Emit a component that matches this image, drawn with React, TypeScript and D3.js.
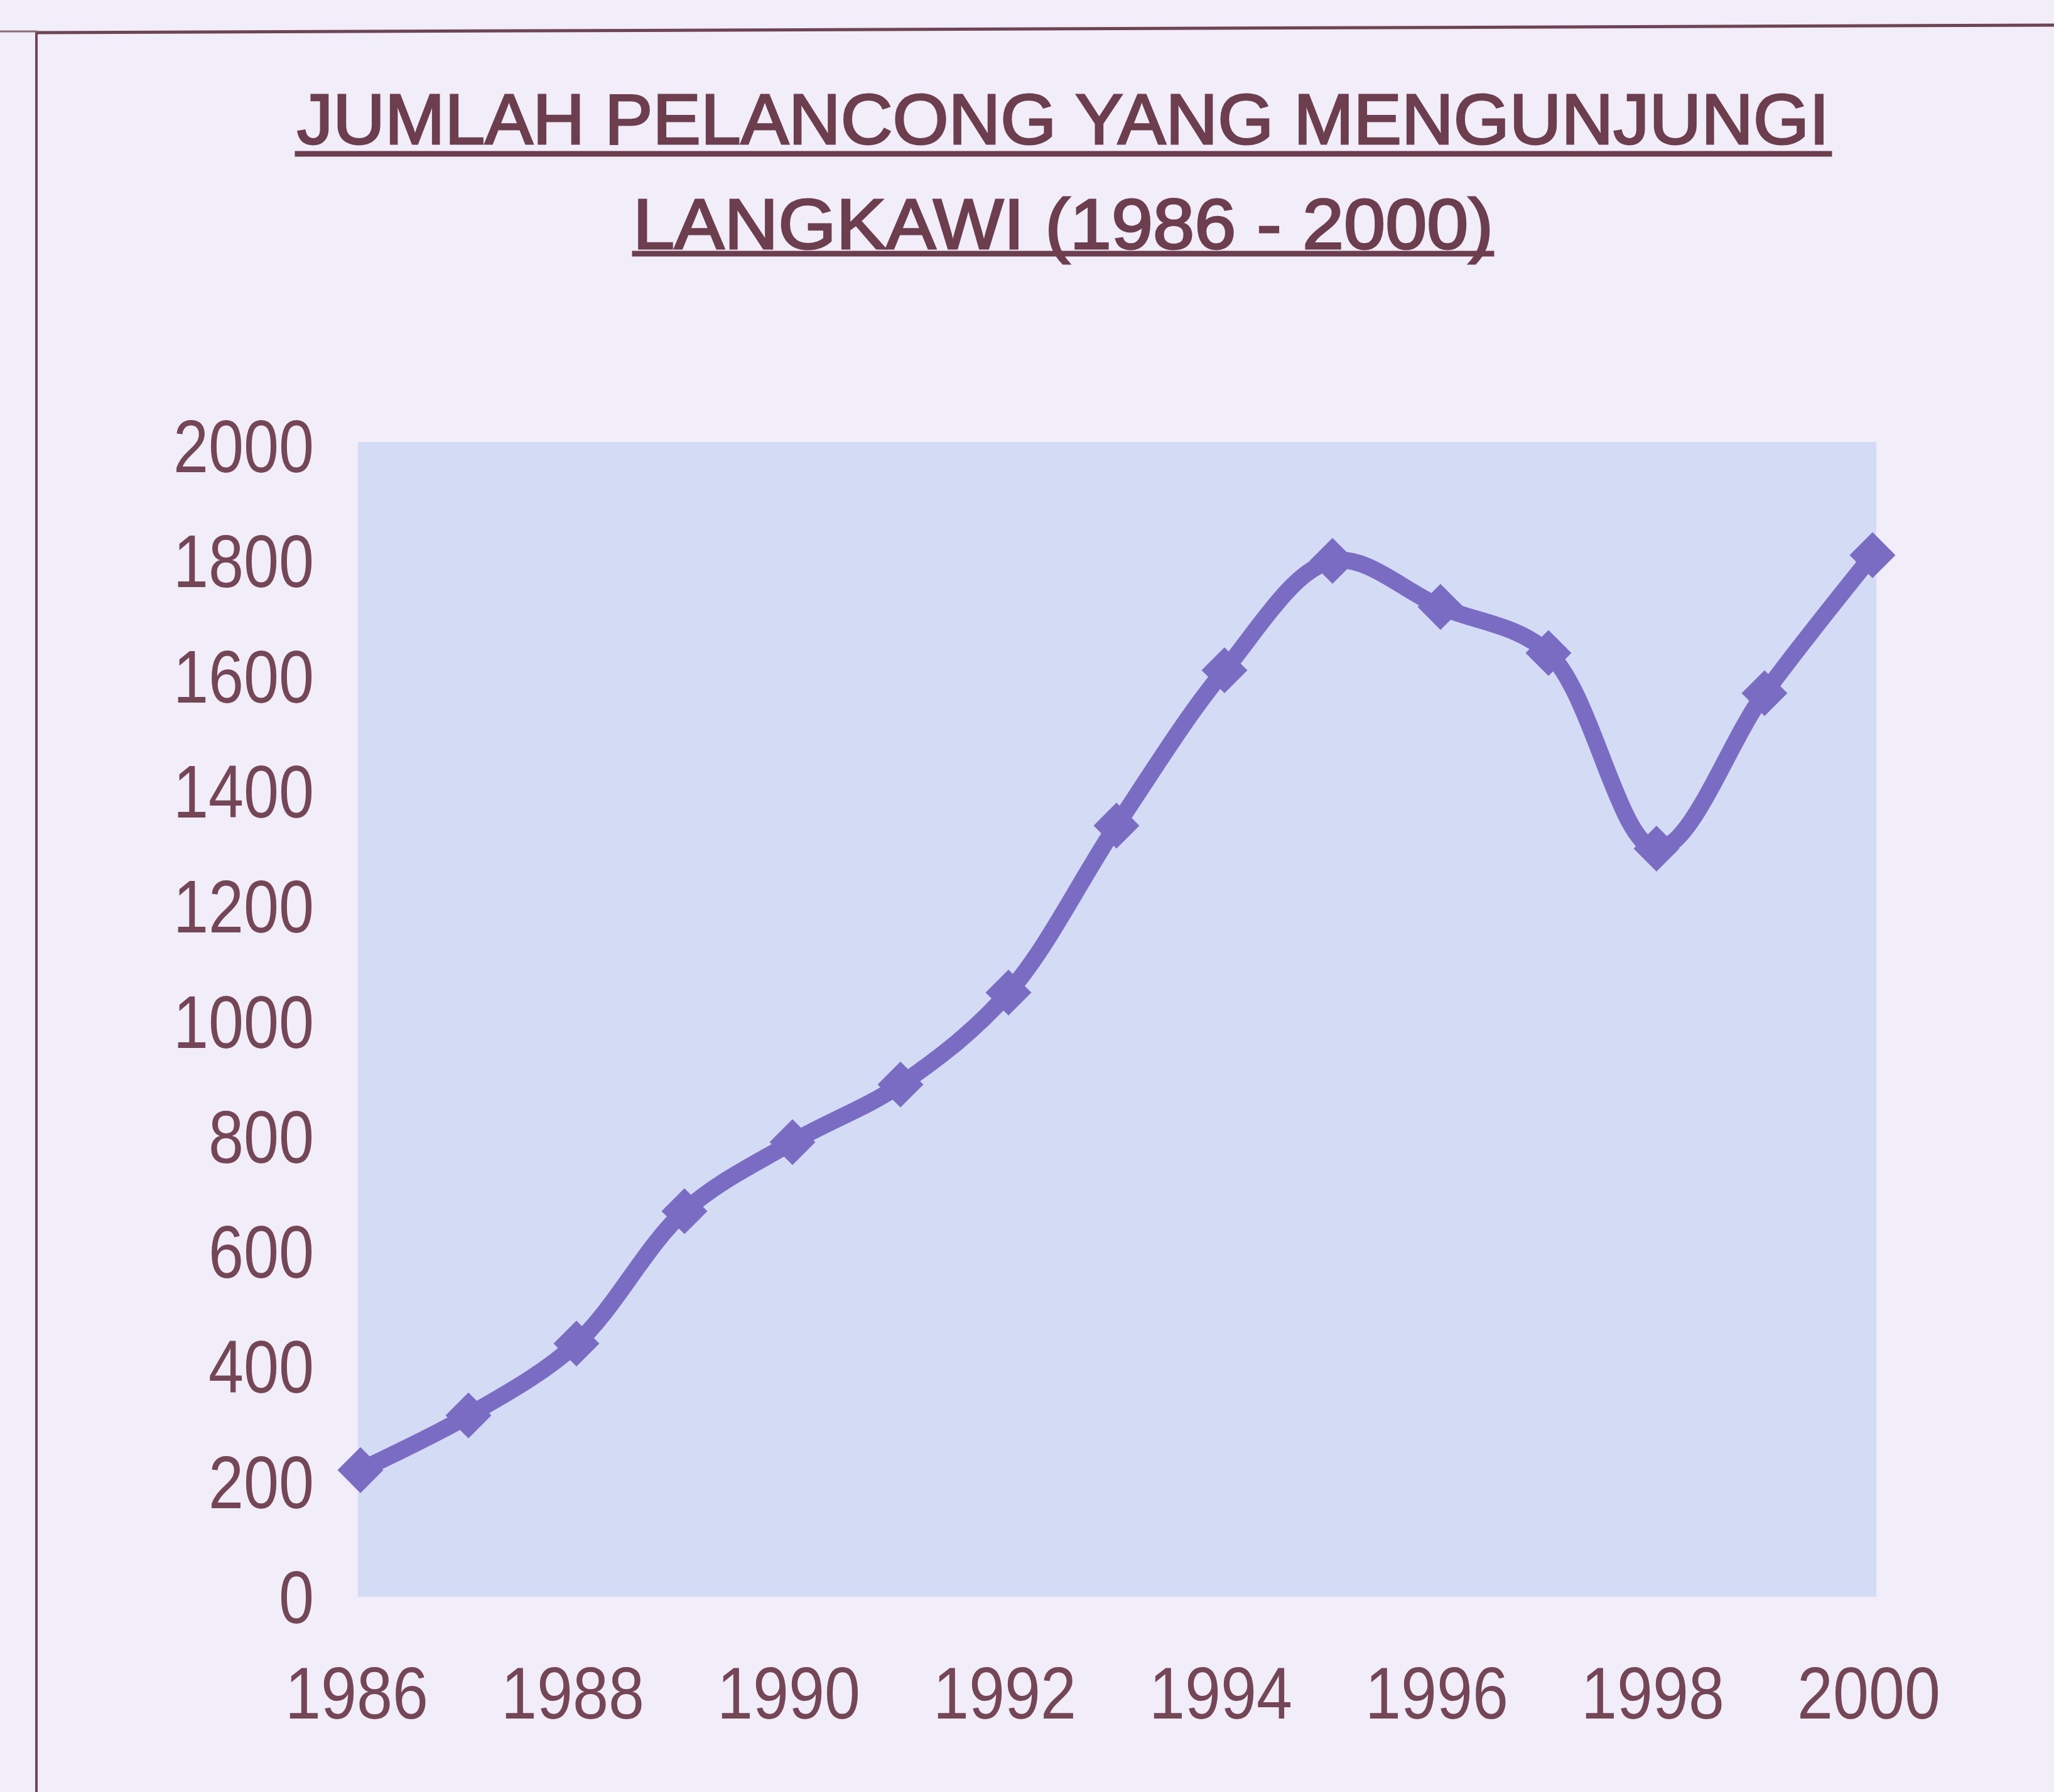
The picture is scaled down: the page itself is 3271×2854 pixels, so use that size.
import React from 'react'
import * as d3 from 'd3'

const years = [1986, 1987, 1988, 1989, 1990, 1991, 1992, 1993, 1994, 1995, 1996, 1997, 1998, 1999, 2000]
const visitors = [220, 315, 440, 670, 790, 890, 1050, 1340, 1610, 1800, 1720, 1640, 1300, 1570, 1810]
const yTicks = [0, 200, 400, 600, 800, 1000, 1200, 1400, 1600, 1800, 2000]
const xTicks = [1986, 1988, 1990, 1992, 1994, 1996, 1998, 2000]
const titleLines = ['JUMLAH PELANCONG YANG MENGUNJUNGI', 'LANGKAWI (1986 - 2000)']

const W = 3271
const H = 2854
const plot = { left: 574, right: 2982, top: 710, bottom: 2543 }
const textColor = '#744656'
const lineColor = '#7b6cc3'
const font = '"Liberation Sans", Arial, sans-serif'

function App() {
    const xScale = d3.scaleLinear()
        .domain([1986, 2000])
        .range([plot.left, plot.right])

    const yScale = d3.scaleLinear()
        .domain([0, 2000])
        .range([plot.bottom, plot.top])

    const line = d3.line<number>()
        .x((d, i) => xScale(years[i]))
        .y((d) => yScale(d))
        .curve(d3.curveCatmullRom.alpha(0.5))

    const diamond = d3.symbol().type(d3.symbolDiamond2).size(3400)

    return (
        <svg width={W} height={H} style={{ position: 'absolute', left: 0, top: 0 }}>
            <rect x={0} y={0} width={W} height={H} fill="#f1edf9" />

            {/* frame */}
            <line x1={56} y1={52} x2={W} y2={40} stroke="#6e4454" strokeWidth={5} />
            <line x1={58} y1={50} x2={58} y2={H} stroke="#6e4454" strokeWidth={4} />
            <line x1={0} y1={50} x2={60} y2={50} stroke="#8a6a78" strokeWidth={3} />

            {/* title */}
            <g fill="#6d3e4e" stroke="#6d3e4e" strokeWidth={3} fontFamily={font}>
                <text x={1693} y={229} fontSize={114} textAnchor="middle"
                    textLength={2440} lengthAdjust="spacingAndGlyphs">{titleLines[0]}</text>
                <rect x={471} y={242} width={2445} height={6} />
                <text x={1693} y={396} fontSize={114} textAnchor="middle"
                    textLength={1370} lengthAdjust="spacingAndGlyphs">{titleLines[1]}</text>
                <rect x={1008} y={401} width={1370} height={6} />
            </g>

            {/* plot area */}
            <rect x={plot.left - 4} y={plot.top - 6} width={plot.right - plot.left + 10}
                height={plot.bottom - plot.top + 6} fill="#d3dcf4" />

            {/* y axis labels */}
            <g fill={textColor} fontFamily={font} fontSize={118}>
                {yTicks.map((t) => {
                    const s = String(t)
                    return (
                        <text key={t} x={500} y={yScale(t) + 42} textAnchor="end"
                            textLength={s.length * 56} lengthAdjust="spacingAndGlyphs">{s}</text>
                    )
                })}
            </g>

            {/* x axis labels */}
            <g fill={textColor} fontFamily={font} fontSize={116}>
                {xTicks.map((t) => (
                    <text key={t} x={xScale(t) - 6} y={2737} textAnchor="middle"
                        textLength={228} lengthAdjust="spacingAndGlyphs">{t}</text>
                ))}
            </g>

            {/* series */}
            <path d={line(visitors) || ''} fill="none" stroke={lineColor}
                strokeWidth={27} strokeLinejoin="round" strokeLinecap="round" />
            <g fill={lineColor}>
                {visitors.map((v, i) => (
                    <path key={years[i]} d={diamond() || ''}
                        transform={`translate(${xScale(years[i])},${yScale(v)})`} />
                ))}
            </g>
        </svg>
    )
}

export default App
